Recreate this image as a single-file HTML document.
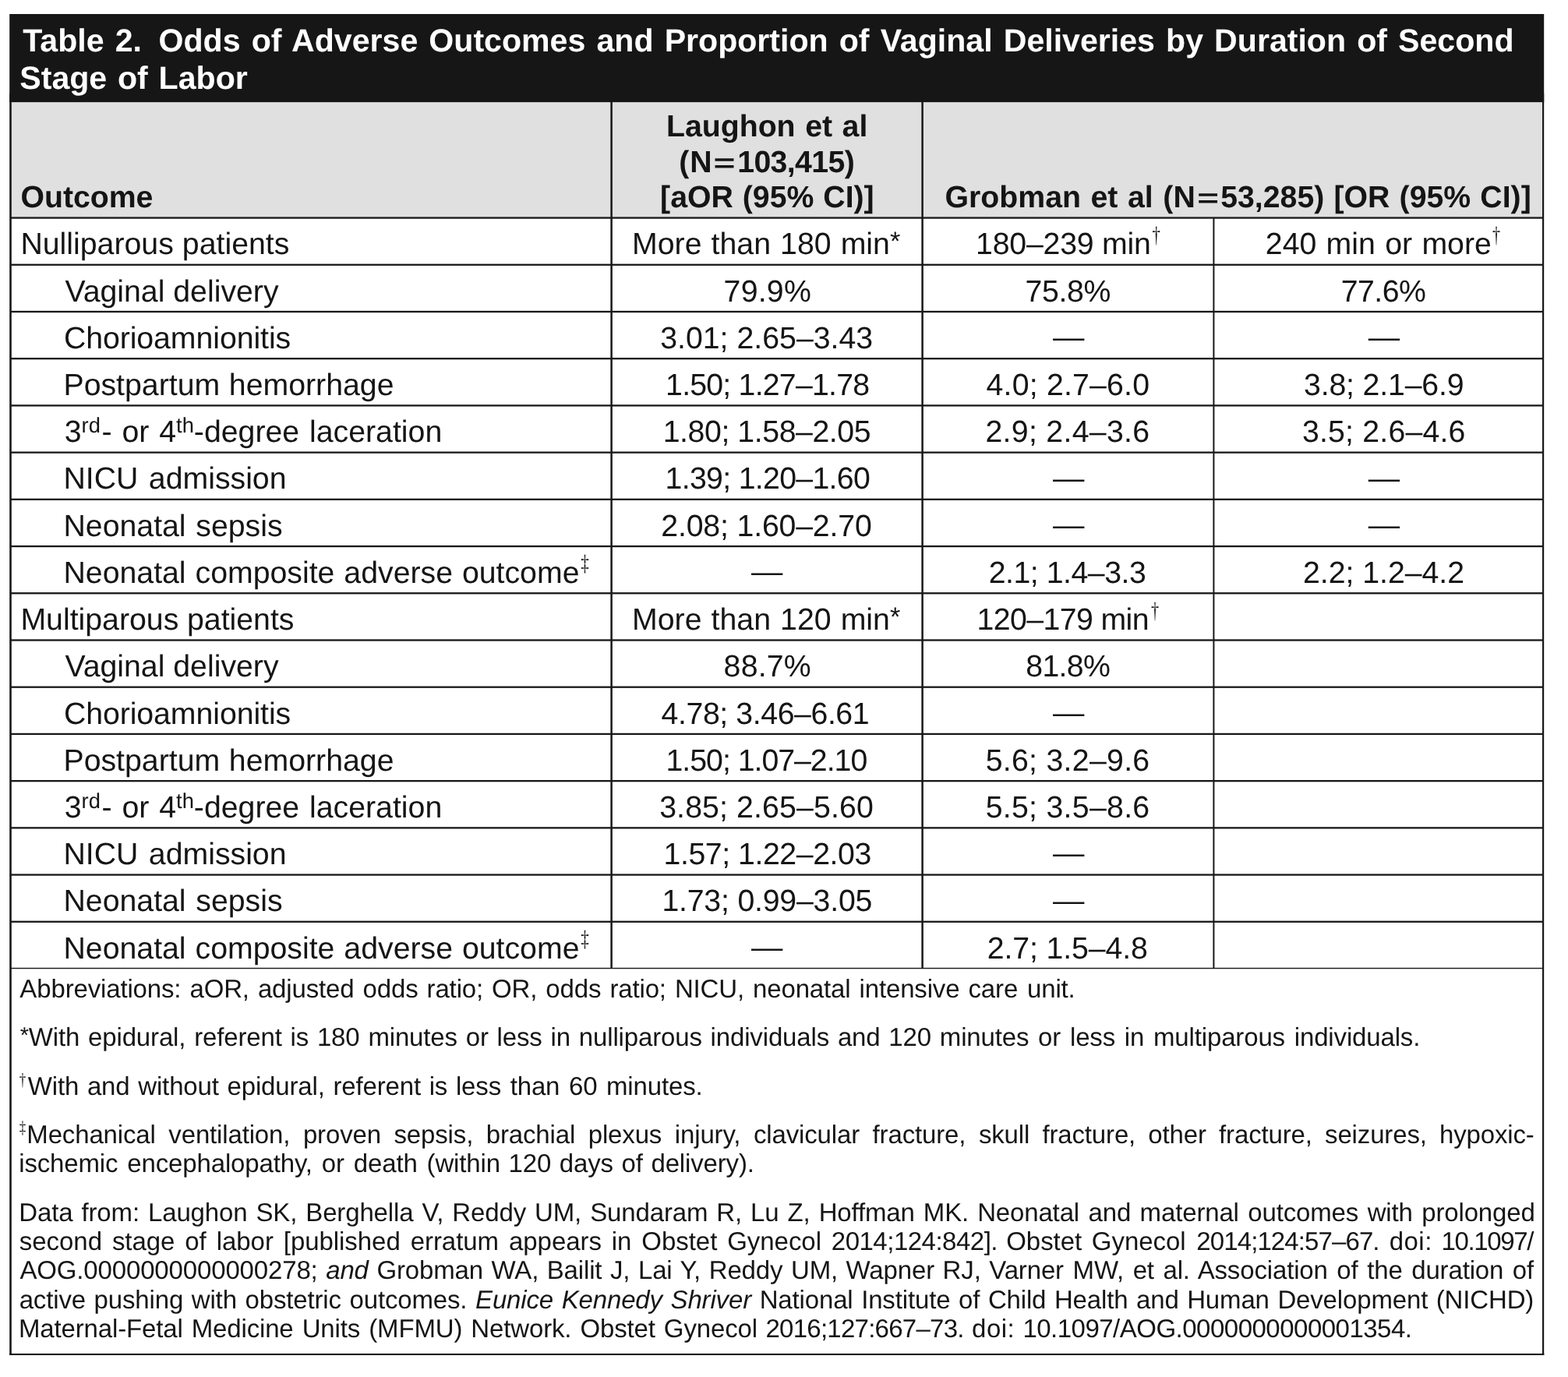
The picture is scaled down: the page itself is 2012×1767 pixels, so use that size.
<!DOCTYPE html>
<html lang="en"><head><meta charset="utf-8"><title>Table 2</title>
<style>html,body{margin:0;padding:0;background:#fff}body{width:2012px;height:1767px;overflow:hidden}svg{display:block}text{font-family:"Liberation Sans",sans-serif;white-space:pre;text-rendering:geometricPrecision}</style></head><body>
<svg width="2012" height="1767" viewBox="0 0 2012 1767">
<rect x="12.2" y="18" width="1969.0" height="113.4" fill="#161616"/>
<rect x="13.5" y="131.4" width="1966.5" height="148.1" fill="#e0e0e0"/>
<g fill="#181818">
<rect x="12.2" y="120" width="2.6" height="1619"/>
<rect x="1979.0" y="120" width="2.2" height="1619"/>
<rect x="12.2" y="1736.9" width="1969.1" height="2.1"/>
<rect x="13" y="278.40" width="1967" height="2.3"/>
<rect x="13" y="338.62" width="1967" height="2.3"/>
<rect x="13" y="398.83" width="1967" height="2.3"/>
<rect x="13" y="459.04" width="1967" height="2.3"/>
<rect x="13" y="519.26" width="1967" height="2.3"/>
<rect x="13" y="579.48" width="1967" height="2.3"/>
<rect x="13" y="639.69" width="1967" height="2.3"/>
<rect x="13" y="699.90" width="1967" height="2.3"/>
<rect x="13" y="760.12" width="1967" height="2.3"/>
<rect x="13" y="820.34" width="1967" height="2.3"/>
<rect x="13" y="880.55" width="1967" height="2.3"/>
<rect x="13" y="940.76" width="1967" height="2.3"/>
<rect x="13" y="1000.98" width="1967" height="2.3"/>
<rect x="13" y="1061.20" width="1967" height="2.3"/>
<rect x="13" y="1121.41" width="1967" height="2.3"/>
<rect x="13" y="1181.62" width="1967" height="2.3"/>
<rect x="13" y="1241.84" width="1967" height="1.4"/>
<rect x="783.35" y="131" width="2.5" height="1111.94"/>
<rect x="1182.35" y="131" width="2.5" height="1111.94"/>
<rect x="1556.40" y="279.50" width="2.0" height="963.44"/>
</g>
<text x="29.30" y="66.10" font-size="41.1" font-weight="bold" word-spacing="2.713" fill="#ffffff">Table 2. <tspan dx="7.4">Odds of Adverse Outcomes and Proportion of Vaginal Deliveries by Duration of Second</tspan></text>
<text x="25.31" y="113.70" font-size="41.1" font-weight="bold" word-spacing="2.382" fill="#ffffff">Stage of Labor</text>
<text x="26.44" y="266.00" font-size="39.25" font-weight="bold" letter-spacing="-0.022" fill="#151515">Outcome</text>
<text x="854.92" y="174.60" font-size="39.25" font-weight="bold" word-spacing="1.645" fill="#151515">Laughon et al</text>
<text x="871.17" y="220.90" font-size="39.25" font-weight="bold" letter-spacing="1.041" fill="#151515">(N</text>
<text x="946.17" y="220.90" font-size="39.25" font-weight="bold" letter-spacing="-0.610" fill="#151515">103,415)</text>
<text x="847.10" y="266.20" font-size="39.25" font-weight="bold" word-spacing="0.999" fill="#151515">[aOR (95% CI)]</text>
<text x="1212.51" y="266.20" font-size="39.25" font-weight="bold" word-spacing="1.672" fill="#151515">Grobman et al (N</text>
<text x="1566.18" y="266.20" font-size="39.25" font-weight="bold" word-spacing="1.261" fill="#151515">53,285) [OR (95% CI)]</text>
<text x="26.42" y="326.40" font-size="39.25" word-spacing="0.189" fill="#151515">Nulliparous patients</text>
<text x="83.39" y="386.62" font-size="39.25" word-spacing="-0.017" fill="#151515">Vaginal delivery</text>
<text x="81.90" y="446.83" font-size="39.25" letter-spacing="-0.067" fill="#151515">Chorioamnionitis</text>
<text x="81.47" y="507.04" font-size="39.25" word-spacing="0.796" fill="#151515">Postpartum hemorrhage</text>
<text x="82.74" y="567.26" font-size="39.25" word-spacing="2.001" fill="#151515">3<tspan font-size="27.3" dy="-12.3">rd</tspan><tspan dy="12.3" dx="1.6">- or 4</tspan><tspan font-size="27.3" dy="-12.3">th</tspan><tspan dy="12.3">-degree laceration</tspan></text>
<text x="81.47" y="627.48" font-size="39.25" word-spacing="2.509" fill="#151515">NICU admission</text>
<text x="81.47" y="687.69" font-size="39.25" word-spacing="1.807" fill="#151515">Neonatal sepsis</text>
<text x="81.47" y="747.90" font-size="39.25" word-spacing="1.036" fill="#151515">Neonatal composite adverse outcome</text>
<text x="26.42" y="808.12" font-size="39.25" word-spacing="-0.193" fill="#151515">Multiparous patients</text>
<text x="83.39" y="868.34" font-size="39.25" word-spacing="-0.017" fill="#151515">Vaginal delivery</text>
<text x="81.90" y="928.55" font-size="39.25" letter-spacing="-0.067" fill="#151515">Chorioamnionitis</text>
<text x="81.47" y="988.76" font-size="39.25" word-spacing="0.796" fill="#151515">Postpartum hemorrhage</text>
<text x="82.74" y="1048.98" font-size="39.25" word-spacing="2.001" fill="#151515">3<tspan font-size="27.3" dy="-12.3">rd</tspan><tspan dy="12.3" dx="1.6">- or 4</tspan><tspan font-size="27.3" dy="-12.3">th</tspan><tspan dy="12.3">-degree laceration</tspan></text>
<text x="81.47" y="1109.20" font-size="39.25" word-spacing="2.509" fill="#151515">NICU admission</text>
<text x="81.47" y="1169.41" font-size="39.25" word-spacing="1.807" fill="#151515">Neonatal sepsis</text>
<text x="81.47" y="1229.62" font-size="39.25" word-spacing="1.036" fill="#151515">Neonatal composite adverse outcome</text>
<text x="811.09" y="326.40" font-size="39.25" word-spacing="1.183" fill="#151515">More than 180 min<tspan font-size="34.3" dy="-5.6">*</tspan></text>
<text x="928.59" y="386.62" font-size="39.25" letter-spacing="0.233" fill="#151515">79.9%</text>
<text x="847.17" y="446.83" font-size="39.25" letter-spacing="0.013" fill="#151515">3.01; 2.65–3.43</text>
<text x="854.09" y="507.04" font-size="39.25" letter-spacing="-0.776" fill="#151515">1.50; 1.27–1.78</text>
<text x="850.70" y="567.26" font-size="39.25" letter-spacing="-0.425" fill="#151515">1.80; 1.58–2.05</text>
<text x="853.54" y="627.48" font-size="39.25" letter-spacing="-0.680" fill="#151515">1.39; 1.20–1.60</text>
<text x="848.31" y="687.69" font-size="39.25" letter-spacing="-0.168" fill="#151515">2.08; 1.60–2.70</text>
<text x="963.98" y="747.00" font-size="40.4" fill="#151515">—</text>
<text x="811.09" y="808.12" font-size="39.25" word-spacing="1.183" fill="#151515">More than 120 min<tspan font-size="34.3" dy="-5.6">*</tspan></text>
<text x="928.62" y="868.34" font-size="39.25" letter-spacing="0.191" fill="#151515">88.7%</text>
<text x="848.61" y="928.55" font-size="39.25" letter-spacing="-0.415" fill="#151515">4.78; 3.46–6.61</text>
<text x="854.54" y="988.76" font-size="39.25" letter-spacing="-1.010" fill="#151515">1.50; 1.07–2.10</text>
<text x="846.17" y="1048.98" font-size="39.25" letter-spacing="0.127" fill="#151515">3.85; 2.65–5.60</text>
<text x="851.54" y="1109.20" font-size="39.25" letter-spacing="-0.438" fill="#151515">1.57; 1.22–2.03</text>
<text x="849.40" y="1169.41" font-size="39.25" letter-spacing="-0.201" fill="#151515">1.73; 0.99–3.05</text>
<text x="963.98" y="1228.72" font-size="40.4" fill="#151515">—</text>
<text x="1252.09" y="326.40" font-size="39.25" letter-spacing="-0.217" fill="#151515">180–239 min</text>
<text x="1315.53" y="386.62" font-size="39.25" letter-spacing="-0.378" fill="#151515">75.8%</text>
<text x="1350.89" y="445.93" font-size="40.4" fill="#151515">—</text>
<text x="1265.60" y="507.04" font-size="39.25" letter-spacing="0.185" fill="#151515">4.0; 2.7–6.0</text>
<text x="1264.47" y="567.26" font-size="39.25" letter-spacing="0.305" fill="#151515">2.9; 2.4–3.6</text>
<text x="1350.89" y="626.58" font-size="40.4" fill="#151515">—</text>
<text x="1350.89" y="686.79" font-size="40.4" fill="#151515">—</text>
<text x="1268.77" y="747.90" font-size="39.25" letter-spacing="-0.489" fill="#151515">2.1; 1.4–3.3</text>
<text x="1253.54" y="808.12" font-size="39.25" letter-spacing="-0.602" fill="#151515">120–179 min</text>
<text x="1316.35" y="868.34" font-size="39.25" letter-spacing="-0.706" fill="#151515">81.8%</text>
<text x="1350.89" y="927.65" font-size="40.4" fill="#151515">—</text>
<text x="1264.69" y="988.76" font-size="39.25" letter-spacing="0.285" fill="#151515">5.6; 3.2–9.6</text>
<text x="1264.69" y="1048.98" font-size="39.25" letter-spacing="0.285" fill="#151515">5.5; 3.5–8.6</text>
<text x="1350.89" y="1108.30" font-size="40.4" fill="#151515">—</text>
<text x="1350.89" y="1168.51" font-size="40.4" fill="#151515">—</text>
<text x="1266.69" y="1229.62" font-size="39.25" letter-spacing="-0.098" fill="#151515">2.7; 1.5–4.8</text>
<text x="1623.82" y="326.40" font-size="39.25" word-spacing="1.411" fill="#151515">240 min or more</text>
<text x="1720.69" y="386.62" font-size="39.25" letter-spacing="-0.512" fill="#151515">77.6%</text>
<text x="1755.65" y="445.93" font-size="40.4" fill="#151515">—</text>
<text x="1672.99" y="507.04" font-size="39.25" letter-spacing="-0.159" fill="#151515">3.8; 2.1–6.9</text>
<text x="1670.96" y="567.26" font-size="39.25" letter-spacing="0.189" fill="#151515">3.5; 2.6–4.6</text>
<text x="1755.65" y="626.58" font-size="40.4" fill="#151515">—</text>
<text x="1755.65" y="686.79" font-size="40.4" fill="#151515">—</text>
<text x="1672.03" y="747.90" font-size="39.25" letter-spacing="-0.032" fill="#151515">2.2; 1.2–4.2</text>
<text x="25.37" y="1280.05" font-size="33.0" word-spacing="2.042" letter-spacing="-0.150" fill="#151515">Abbreviations: aOR, adjusted odds ratio; OR, odds ratio; NICU, neonatal intensive <tspan word-spacing="2.891">care unit.</tspan></text>
<text x="25.74" y="1342.40" font-size="33.0" word-spacing="1.831" letter-spacing="-0.150" fill="#151515"><tspan font-size="28.9" dy="-4.7">*</tspan><tspan dy="4.7">With epidural, referent is 180 minutes or less in nulliparous individuals and 120 <tspan word-spacing="2.787">minutes or less in multiparous individuals.</tspan></tspan></text>
<text x="35.81" y="1404.75" font-size="33.0" word-spacing="1.701" letter-spacing="-0.150" fill="#151515">With and without epidural, referent is <tspan word-spacing="2.628">less than 60 minutes.</tspan></text>
<text x="34.32" y="1467.10" font-size="33.0" word-spacing="7.582" letter-spacing="-0.150" fill="#151515">Mechanical ventilation, proven sepsis, brachial plexus injury, clavicular fracture, <tspan word-spacing="7.242">skull fracture, other fracture, seizures, hypoxic-</tspan></text>
<text x="24.22" y="1504.40" font-size="33.0" word-spacing="2.942" letter-spacing="-0.150" fill="#151515">ischemic encephalopathy, or death <tspan word-spacing="1.636">(within 120 days of delivery).</tspan></text>
<text x="24.32" y="1566.75" font-size="33.0" word-spacing="2.056" letter-spacing="-0.150" fill="#151515">Data from: Laughon SK, Berghella V, Reddy UM, Sundaram R, Lu Z, Hoffman MK. <tspan word-spacing="2.474">Neonatal and maternal outcomes with prolonged</tspan></text>
<text x="25.44" y="1641.35" font-size="33.0" word-spacing="1.571" letter-spacing="-0.150" fill="#151515">AOG.0000000000000278; <tspan font-style="italic">and</tspan> Grobman WA, Bailit J, Lai Y, Reddy UM, Wapner RJ, <tspan word-spacing="2.574">Varner MW, et al. Association of the duration of</tspan></text>
<text x="24.64" y="1678.65" font-size="33.0" word-spacing="1.620" letter-spacing="-0.150" fill="#151515">active pushing with obstetric outcomes. <tspan font-style="italic">Eunice Kennedy Shriver</tspan> National Institute of <tspan word-spacing="1.563">Child Health and Human Development (NICHD)</tspan></text>
<text x="24.83" y="1604.05" font-size="33.0" word-spacing="3.833" letter-spacing="-0.050" fill="#151515">second stage of labor [published erratum appears in Obstet Gynecol</text>
<text x="1066.84" y="1604.05" font-size="33.0" letter-spacing="-0.505" fill="#151515">2014;124:842].</text>
<text x="1291.24" y="1604.05" font-size="33.0" word-spacing="3.592" letter-spacing="-0.050" fill="#151515">Obstet Gynecol</text>
<text x="1535.31" y="1604.05" font-size="33.0" letter-spacing="-0.894" fill="#151515">2014;124:57–67.</text>
<text x="1782.77" y="1604.05" font-size="33.0" letter-spacing="0.442" fill="#151515">doi:</text>
<text x="1849.38" y="1604.05" font-size="33.0" letter-spacing="-1.344" fill="#151515">10.1097/</text>
<text x="23.97" y="1715.95" font-size="33.0" word-spacing="2.082" letter-spacing="-0.150" fill="#151515">Maternal-Fetal Medicine Units (MFMU) Network. Obstet Gynecol</text>
<text x="982.47" y="1715.95" font-size="33.0" letter-spacing="-0.740" fill="#151515">2016;127:667–73.</text>
<text x="1247.03" y="1715.95" font-size="33.0" letter-spacing="0.521" fill="#151515">doi:</text>
<text x="1312.39" y="1715.95" font-size="33.0" letter-spacing="-0.507" fill="#151515">10.1097/AOG.0000000000001354.</text>
<text transform="translate(915.51,219.69) scale(1.496,1)" font-size="32.00" font-weight="bold" fill="#151515">=</text>
<text transform="translate(1536.33,264.69) scale(1.483,1)" font-size="32.00" font-weight="bold" fill="#151515">=</text>
<text transform="translate(1478.56,310.98) scale(0.710,1)" font-family="'Liberation Serif',serif" font-size="29.22" fill="#151515" style="font-family:'Liberation Serif',serif">†</text>
<text transform="translate(1476.88,792.70) scale(0.687,1)" font-family="'Liberation Serif',serif" font-size="29.22" fill="#151515" style="font-family:'Liberation Serif',serif">†</text>
<text transform="translate(1914.98,310.98) scale(0.687,1)" font-family="'Liberation Serif',serif" font-size="29.22" fill="#151515" style="font-family:'Liberation Serif',serif">†</text>
<text transform="translate(745.25,732.48) scale(0.718,1)" font-family="'Liberation Serif',serif" font-size="29.22" fill="#151515" style="font-family:'Liberation Serif',serif">‡</text>
<text transform="translate(745.25,1214.20) scale(0.718,1)" font-family="'Liberation Serif',serif" font-size="29.22" fill="#151515" style="font-family:'Liberation Serif',serif">‡</text>
<text transform="translate(24.78,1392.50) scale(0.732,1)" font-family="'Liberation Serif',serif" font-size="23.06" fill="#151515" style="font-family:'Liberation Serif',serif">†</text>
<text transform="translate(24.78,1454.08) scale(0.756,1)" font-family="'Liberation Serif',serif" font-size="22.32" fill="#151515" style="font-family:'Liberation Serif',serif">‡</text>
</svg></body></html>
